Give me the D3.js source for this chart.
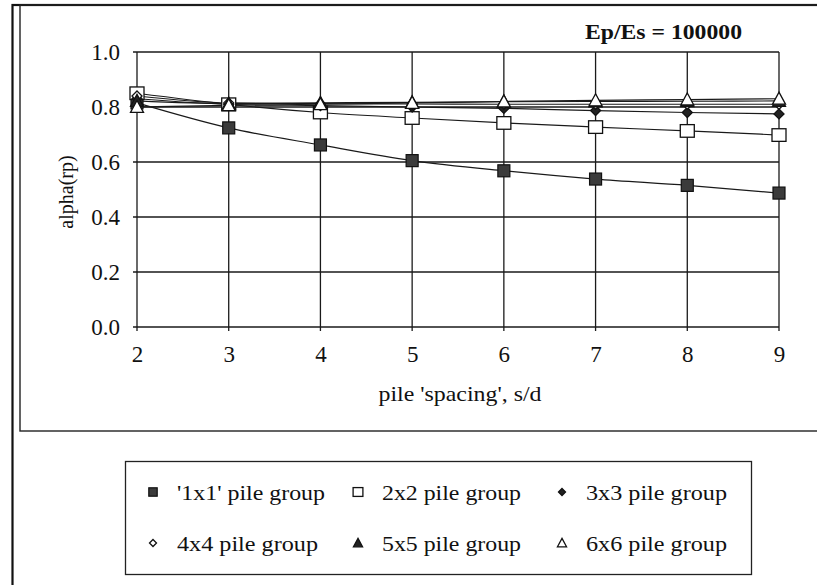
<!DOCTYPE html>
<html>
<head>
<meta charset="utf-8">
<script src="https://cdn.jsdelivr.net/npm/d3@7"></script>
<style>
  html, body { margin: 0; padding: 0; background: #fff; }
  svg { display: block; }
</style>
</head>
<body>
<svg id="chart" width="817" height="585"></svg>
<script>
// pile spacing s/d
const spacing = [2, 3, 4, 5, 6, 7, 8, 9];

// alpha(rp) for each pile group, Ep/Es = 100000
const group1x1 = [0.815, 0.724, 0.662, 0.605, 0.568, 0.538, 0.515, 0.487];
const group2x2 = [0.850, 0.810, 0.780, 0.760, 0.742, 0.727, 0.713, 0.698];
const group3x3 = [0.830, 0.810, 0.805, 0.800, 0.795, 0.787, 0.780, 0.775];
const group4x4 = [0.840, 0.815, 0.812, 0.811, 0.810, 0.810, 0.810, 0.810];
const group5x5 = [0.822, 0.812, 0.815, 0.817, 0.819, 0.820, 0.821, 0.822];
const group6x6 = [0.800, 0.806, 0.810, 0.815, 0.820, 0.824, 0.827, 0.830];

const seriesNames = ["'1x1' pile group", "2x2 pile group", "3x3 pile group",
                     "4x4 pile group", "5x5 pile group", "6x6 pile group"];
const seriesValues = [group1x1, group2x2, group3x3, group4x4, group5x5, group6x6];

const xTicks = [2, 3, 4, 5, 6, 7, 8, 9];
const yTicks = [0.0, 0.2, 0.4, 0.6, 0.8, 1.0];

const titleText = "Ep/Es = 100000";
const xAxisTitle = "pile 'spacing', s/d";
const yAxisTitle = "alpha(rp)";

// marker style per series
const markerKinds = ["fsquare", "osquare", "fdiamond", "odiamond", "ftriangle", "otriangle"];

const FONT = "'Liberation Serif', Tinos, 'Times New Roman', Times, 'Nimbus Roman', serif";

const svg = d3.select("#chart").attr("font-family", FONT);

// outer frame and chart-area frame
svg.append("rect").attr("x", 12.5).attr("y", 5).attr("width", 900).attr("height", 700)
  .attr("fill", "none").attr("stroke", "#111").attr("stroke-width", 2.2);
svg.append("rect").attr("x", 20).attr("y", 5).attr("width", 900).attr("height", 426)
  .attr("fill", "none").attr("stroke", "#222").attr("stroke-width", 1.4);

const plot = { left: 137, right: 779, top: 52, bottom: 327 };

const x = d3.scaleLinear().domain([2, 9]).range([plot.left, plot.right]);
const y = d3.scaleLinear().domain([0, 1]).range([plot.bottom, plot.top]);

// gridlines
const g = svg.append("g");
g.selectAll("line.hgrid").data(yTicks).join("line")
  .attr("class", "hgrid")
  .attr("x1", plot.left - 4).attr("x2", plot.right)
  .attr("y1", d => y(d)).attr("y2", d => y(d))
  .attr("stroke", "#1a1a1a").attr("stroke-width", 1.3);
g.selectAll("line.vgrid").data(xTicks).join("line")
  .attr("class", "vgrid")
  .attr("x1", d => x(d)).attr("x2", d => x(d))
  .attr("y1", plot.top).attr("y2", plot.bottom + 4)
  .attr("stroke", "#1a1a1a").attr("stroke-width", 1.3);

// y tick labels
const yAxis = d3.axisLeft(y).tickValues(yTicks).tickFormat(d3.format(".1f")).tickSize(0).tickPadding(17);
const ya = svg.append("g").attr("transform", `translate(${plot.left},0)`).call(yAxis)
  .attr("font-family", FONT).attr("font-size", 23);
ya.select(".domain").remove();
ya.selectAll("text").attr("fill", "#111");

// x tick labels
const xAxis = d3.axisBottom(x).tickValues(xTicks).tickFormat(d3.format("d")).tickSize(0).tickPadding(19);
const xa = svg.append("g").attr("transform", `translate(0,${plot.bottom})`).call(xAxis)
  .attr("font-family", FONT).attr("font-size", 23);
xa.select(".domain").remove();
xa.selectAll("text").attr("fill", "#111");

// axis titles
svg.append("text").attr("x", 460).attr("y", 401).attr("text-anchor", "middle")
  .attr("font-size", 21).attr("fill", "#111")
  .attr("textLength", 163).attr("lengthAdjust", "spacingAndGlyphs")
  .text(xAxisTitle);
svg.append("text").attr("transform", "translate(73,192) rotate(-90)").attr("text-anchor", "middle")
  .attr("font-size", 20).attr("fill", "#111").text(yAxisTitle);

// chart title
svg.append("text").attr("x", 742).attr("y", 39).attr("text-anchor", "end")
  .attr("font-size", 21).attr("font-weight", "bold").attr("fill", "#111")
  .attr("textLength", 157).attr("lengthAdjust", "spacingAndGlyphs")
  .text(titleText);

// marker drawing
function drawMarker(sel, kind, cx, cy, scale) {
  const s = scale || 1;
  if (kind === "fsquare") {
    const h = 6 * s;
    sel.append("rect").attr("x", cx - h).attr("y", cy - h).attr("width", 2 * h).attr("height", 2 * h)
      .attr("fill", "#3b3b3b").attr("stroke", "#111").attr("stroke-width", 1.2);
  } else if (kind === "osquare") {
    const w = 7 * s, h = 6.3 * s;
    sel.append("rect").attr("x", cx - w).attr("y", cy - h).attr("width", 2 * w).attr("height", 2 * h)
      .attr("fill", "#fff").attr("stroke", "#111").attr("stroke-width", 1.3);
  } else if (kind === "fdiamond" || kind === "odiamond") {
    const r = 5 * s;
    sel.append("path").attr("d", `M${cx},${cy - r}L${cx + r},${cy}L${cx},${cy + r}L${cx - r},${cy}Z`)
      .attr("fill", kind === "fdiamond" ? "#222" : "#fff").attr("stroke", "#111").attr("stroke-width", 1.3);
  } else {
    const w = 6.5 * s, h = 12 * s;
    sel.append("path").attr("d", `M${cx},${cy - h * 0.55}L${cx + w},${cy + h * 0.45}L${cx - w},${cy + h * 0.45}Z`)
      .attr("fill", kind === "ftriangle" ? "#222" : "#fff").attr("stroke", "#111").attr("stroke-width", 1.3);
  }
}

// series lines then markers
const line = d3.line().x((d, i) => x(spacing[i])).y(d => y(d)).curve(d3.curveMonotoneX);
const seriesG = svg.append("g");
seriesValues.forEach((vals) => {
  seriesG.append("path").datum(vals).attr("d", line)
    .attr("fill", "none").attr("stroke", "#1a1a1a").attr("stroke-width", 1.2);
});
seriesValues.forEach((vals, si) => {
  const mg = seriesG.append("g");
  vals.forEach((v, i) => drawMarker(mg, markerKinds[si], x(spacing[i]), y(v), 1));
});

// legend
svg.append("rect").attr("x", 125.5).attr("y", 461.5).attr("width", 626).attr("height", 113)
  .attr("fill", "#fff").attr("stroke", "#222").attr("stroke-width", 1.3);
const legendCols = [153, 358, 562];
const legendRows = [497, 548];
const legendLens = [148, 139, 141, 141, 139, 141];
seriesNames.forEach((name, i) => {
  const col = i % 3, row = Math.floor(i / 3);
  const lg = svg.append("g");
  drawMarker(lg, markerKinds[i], legendCols[col], legendRows[row] - 5, 0.7);
  lg.append("text").attr("x", legendCols[col] + 24).attr("y", legendRows[row] + 3)
    .attr("font-size", 21).attr("fill", "#111")
    .attr("textLength", legendLens[i]).attr("lengthAdjust", "spacingAndGlyphs")
    .text(name);
});
</script>
</body>
</html>
